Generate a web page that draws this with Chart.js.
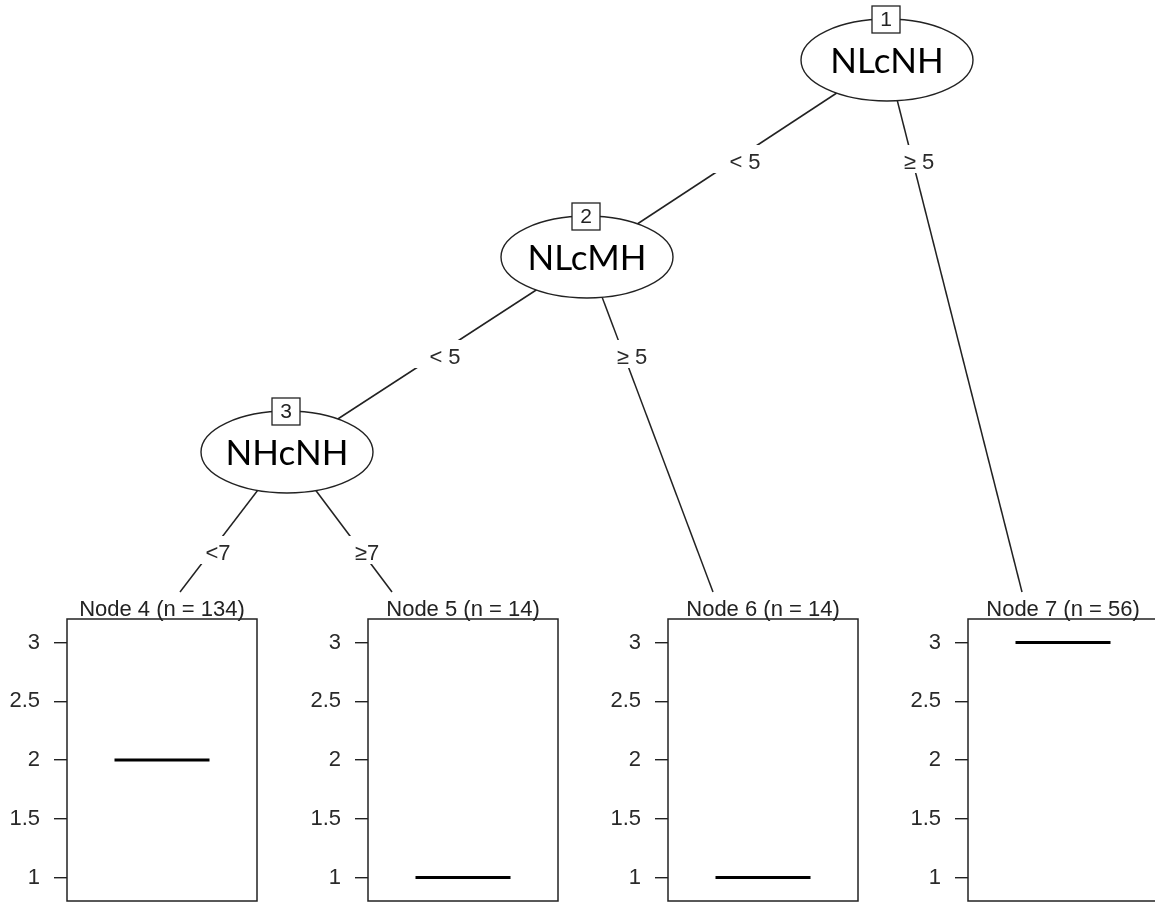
<!DOCTYPE html>
<html>
<head>
<meta charset="utf-8">
<script src="https://cdn.jsdelivr.net/npm/chart.js@4.4.1/dist/chart.umd.min.js"></script>
<style>
  html, body { margin: 0; padding: 0; background: #fff; overflow: hidden; }
  #wrap { position: relative; width: 1155px; height: 903px; overflow: hidden; }
  #tree { position: absolute; left: 0; top: 0; }
  .leaf { position: absolute; top: 595px; }
</style>
</head>
<body>
<div id="wrap">
  <canvas id="tree" width="1155" height="903"></canvas>
  <canvas id="leaf0" class="leaf" width="261" height="308" style="left:0px"></canvas>
  <canvas id="leaf1" class="leaf" width="261" height="308" style="left:301px"></canvas>
  <canvas id="leaf2" class="leaf" width="261" height="308" style="left:601px"></canvas>
  <canvas id="leaf3" class="leaf" width="261" height="308" style="left:901px"></canvas>
</div>
<script>
// tree data
const innerIds = [1, 2, 3];
const splitVars = ["NLcNH", "NLcMH", "NHcNH"];
const edgeFrom = [1, 1, 2, 2, 3, 3];
const edgeTo = [2, 7, 3, 6, 4, 5];
const edgeLabels = ["< 5", "\u2265 5", "< 5", "\u2265 5", "<7", "\u22657"];

// leaf data
const leafIds = [4, 5, 6, 7];
const leafN = [134, 14, 14, 56];
const leafMedian = [2, 1, 1, 3];
const yTicks = [1, 1.5, 2, 2.5, 3];
const yRange = [0.8, 3.2];

// layout of the tree (tree chart units)
const nodePos = {1: [887, 60], 2: [587, 257], 3: [287, 452], 4: [180, 592], 5: [392, 592], 6: [713, 592], 7: [1022, 592]};
const labelPos = [[745, 162], [919, 162], [445, 357], [632, 357], [218, 553], [367, 553]];
const ellR = [86, 41];

const txtFont = '"Liberation Sans", Arial, sans-serif';
const nodeFont = 'Lato, "Open Sans", sans-serif';

const treeDecor = {
  id: 'treeDecor',
  afterDatasetsDraw(chart) {
    const ctx = chart.ctx;
    const xs = chart.scales.x, ys = chart.scales.y;
    ctx.save();
    // edge labels
    ctx.font = '22px ' + txtFont;
    ctx.textAlign = 'center';
    ctx.textBaseline = 'middle';
    for (var i = 0; i < edgeLabels.length; i++) {
      var px = xs.getPixelForValue(labelPos[i][0]);
      var py = ys.getPixelForValue(labelPos[i][1]);
      var w = ctx.measureText(edgeLabels[i]).width;
      ctx.fillStyle = '#fff';
      ctx.fillRect(px - w / 2 - 20, py - 17, w + 40, 28);
      ctx.fillStyle = '#2a2a2a';
      ctx.fillText(edgeLabels[i], px, py + 1);
    }
    // inner nodes
    const meta = chart.getDatasetMeta(chart.data.datasets.length - 1);
    for (var j = 0; j < innerIds.length; j++) {
      var pt = meta.data[j];
      ctx.beginPath();
      ctx.ellipse(pt.x, pt.y, ellR[0], ellR[1], 0, 0, Math.PI * 2);
      ctx.fillStyle = '#fff';
      ctx.fill();
      ctx.lineWidth = 1.4;
      ctx.strokeStyle = '#222';
      ctx.stroke();
      ctx.fillStyle = '#000';
      ctx.font = '35px ' + nodeFont;
      ctx.textBaseline = 'middle';
      ctx.fillText(splitVars[j], pt.x, pt.y + 2);
      // id box
      var bx = pt.x - 1, by = pt.y - ellR[1];
      ctx.fillStyle = '#fff';
      ctx.fillRect(bx - 14, by - 13, 28, 27);
      ctx.lineWidth = 1.3;
      ctx.strokeRect(bx - 14, by - 13, 28, 27);
      ctx.fillStyle = '#222';
      ctx.font = '21px ' + txtFont;
      ctx.fillText(String(innerIds[j]), bx, by + 1);
    }
    ctx.restore();
  }
};

function createTree() {
  var sets = [];
  for (var i = 0; i < edgeFrom.length; i++) {
    var a = nodePos[edgeFrom[i]], b = nodePos[edgeTo[i]];
    sets.push({
      data: [{x: a[0], y: a[1]}, {x: b[0], y: b[1]}],
      showLine: true,
      borderColor: '#222',
      borderWidth: 1.5,
      pointRadius: 0,
      clip: false
    });
  }
  sets.push({
    data: innerIds.map(id => ({x: nodePos[id][0], y: nodePos[id][1]})),
    pointRadius: 0,
    showLine: false
  });
  new Chart(document.getElementById('tree'), {
    type: 'scatter',
    data: {datasets: sets},
    options: {
      responsive: false,
      animation: false,
      events: [],
      layout: {padding: 0},
      plugins: {legend: {display: false}, tooltip: {enabled: false}},
      scales: {
        x: {type: 'linear', min: 0, max: 1155, display: false},
        y: {type: 'linear', min: 0, max: 903, reverse: true, display: false}
      }
    },
    plugins: [treeDecor]
  });
}

const leafFrame = {
  id: 'leafFrame',
  afterDraw(chart, args, opts) {
    const a = chart.chartArea, ctx = chart.ctx;
    ctx.save();
    ctx.lineWidth = 1.5;
    ctx.strokeStyle = '#222';
    ctx.strokeRect(a.left, a.top, a.right - a.left, a.bottom - a.top);
    ctx.fillStyle = '#222';
    ctx.font = '22px ' + txtFont;
    ctx.textAlign = 'center';
    ctx.textBaseline = 'alphabetic';
    ctx.fillText(opts.text, (a.left + a.right) / 2, a.top - 3);
    ctx.restore();
  }
};

function createLeaf(i) {
  var canvas = document.getElementById('leaf' + i);
  new Chart(canvas, {
    type: 'scatter',
    data: {
      datasets: [{
        data: [{x: 0.25, y: leafMedian[i]}, {x: 0.75, y: leafMedian[i]}],
        showLine: true,
        borderColor: '#000',
        borderWidth: 3,
        pointRadius: 0,
        clip: false
      }]
    },
    options: {
      responsive: false,
      animation: false,
      events: [],
      layout: {padding: {top: 24, right: 4, bottom: 2, left: 0}},
      plugins: {
        legend: {display: false},
        tooltip: {enabled: false},
        leafFrame: {text: 'Node ' + leafIds[i] + ' (n = ' + leafN[i] + ')'}
      },
      scales: {
        x: {type: 'linear', min: 0, max: 1, display: false},
        y: {
          type: 'linear',
          min: yRange[0],
          max: yRange[1],
          afterBuildTicks: s => { s.ticks = yTicks.map(v => ({value: v})); },
          afterFit: s => { s.width = 67; s.paddingTop = 0; s.paddingBottom = 0; },
          grid: {drawOnChartArea: false, color: '#222', lineWidth: 1.4, tickLength: 13},
          border: {display: false},
          ticks: {
            color: '#2a2a2a',
            padding: 14,
            font: {family: txtFont, size: 22},
            callback: v => String(v)
          }
        }
      }
    },
    plugins: [leafFrame]
  });
}

createTree();
for (var k = 0; k < leafIds.length; k++) {
  createLeaf(k);
}
</script>
</body>
</html>
